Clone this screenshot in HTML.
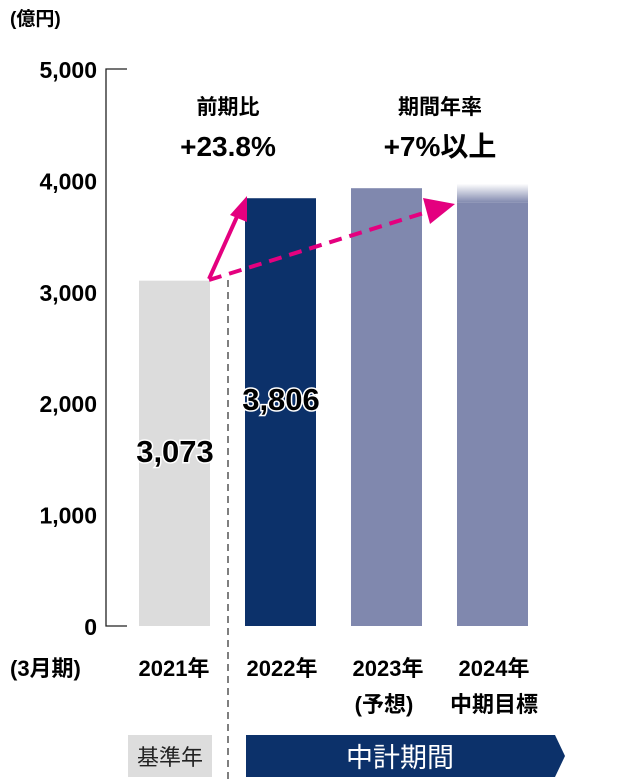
<!DOCTYPE html>
<html><head><meta charset="utf-8"><style>
body{margin:0;background:#fff;}
svg{display:block;font-family:"Liberation Sans","Noto Sans CJK JP",sans-serif;}
</style></head><body>
<svg width="634" height="779" viewBox="0 0 634 779">
<defs>
<linearGradient id="fade" x1="0" y1="0" x2="0" y2="1"><stop offset="0" stop-color="#8088ae" stop-opacity="0"/><stop offset="1" stop-color="#8088ae"/></linearGradient>
</defs>
<text x="10" y="25" font-size="19" font-weight="bold">(億円)</text>
<g id="yaxis"></g>
<g id="bars"></g>
<line x1="228" y1="280" x2="228" y2="779" stroke="#555" stroke-width="1.5" stroke-dasharray="7,5"/>
<line x1="209" y1="279" x2="240" y2="210" stroke="#e4007f" stroke-width="4"/>
<path d="M247,196 L230,215 L247,222 Z" fill="#e4007f"/>
<line x1="209" y1="280" x2="430" y2="211" stroke="#e4007f" stroke-width="4" stroke-dasharray="13,8"/>
<path d="M455,204 L423,198 L430,224 Z" fill="#e4007f"/>
<text x="228" y="114" font-size="21" font-weight="bold" text-anchor="middle">前期比</text>
<text x="228" y="156" font-size="28" font-weight="bold" text-anchor="middle">+23.8%</text>
<text x="440" y="114" font-size="21" font-weight="bold" text-anchor="middle">期間年率</text>
<text x="440" y="156" font-size="28" font-weight="bold" text-anchor="middle">+7%以上</text>
<text x="175" y="462" font-size="31" font-weight="bold" text-anchor="middle" stroke="#fff" stroke-width="3" paint-order="stroke">3,073</text>
<text x="281" y="410" font-size="31" font-weight="bold" text-anchor="middle" stroke="#fff" stroke-width="3" paint-order="stroke">3,806</text>
<g font-size="22" font-weight="bold">
<text x="10" y="676">(3月期)</text>
<text x="174" y="676" text-anchor="middle">2021年</text>
<text x="282" y="676" text-anchor="middle">2022年</text>
<text x="388" y="676" text-anchor="middle">2023年</text>
<text x="494" y="676" text-anchor="middle">2024年</text>
<text x="384" y="712" text-anchor="middle">(予想)</text>
<text x="494" y="712" text-anchor="middle">中期目標</text>
</g>
<rect x="128" y="735" width="84" height="42" fill="#ddd"/>
<text x="170" y="765" font-size="22" text-anchor="middle" fill="#222">基準年</text>
<path d="M246,735 L555,735 L565,756 L555,777 L246,777 Z" fill="#0c316a"/>
<text x="400" y="767" font-size="27" text-anchor="middle" fill="#fff">中計期間</text>
</svg>
<script>
const categories=["2021","2022","2023","2024"];
const values=[3100,3840,3930,3800];
const fadeTop=[0,0,0,3970];
const colors=["#dcdcdc","#0c316a","#8088ae","#8088ae"];
const ticks=[0,1000,2000,3000,4000,5000];
const tickLabels=["0","1,000","2,000","3,000","4,000","5,000"];
const y0=626,y1=69,vmax=5000;
function y(v){return y0-(v/vmax)*(y0-y1);}
function xb(i){return 139+i*106;}
const NS="http://www.w3.org/2000/svg";
const ya=document.getElementById('yaxis');
const ax=document.createElementNS(NS,'path');
ax.setAttribute('d',`M127,${y(5000)}H106V${y(0)}H127`);
ax.setAttribute('fill','none');ax.setAttribute('stroke','#222');ax.setAttribute('stroke-width','1.3');


ya.appendChild(ax);
ticks.forEach((t,i)=>{
 const tx=document.createElementNS(NS,'text');
 tx.setAttribute('x',97);tx.setAttribute('y',y(t)+9);
 tx.setAttribute('text-anchor','end');tx.setAttribute('font-size','23');tx.setAttribute('font-weight','bold');
 tx.textContent=tickLabels[i];
 
 
 ya.appendChild(tx);
});
const bg=document.getElementById('bars');
categories.forEach((c,i)=>{
 const r=document.createElementNS(NS,'rect');
 r.setAttribute('x',xb(i));r.setAttribute('width',71);
 r.setAttribute('y',y(values[i]));r.setAttribute('height',y(0)-y(values[i]));
 r.setAttribute('fill',colors[i]);
 
 
 bg.appendChild(r);
 if(fadeTop[i]>values[i]){
  const f=document.createElementNS(NS,'rect');
  f.setAttribute('x',xb(i));f.setAttribute('width',71);
  f.setAttribute('y',y(fadeTop[i]));f.setAttribute('height',y(values[i])-y(fadeTop[i]));
  f.setAttribute('fill','url(#fade)');
  
  
  bg.appendChild(f);
 }
});
</script>
</body></html>
